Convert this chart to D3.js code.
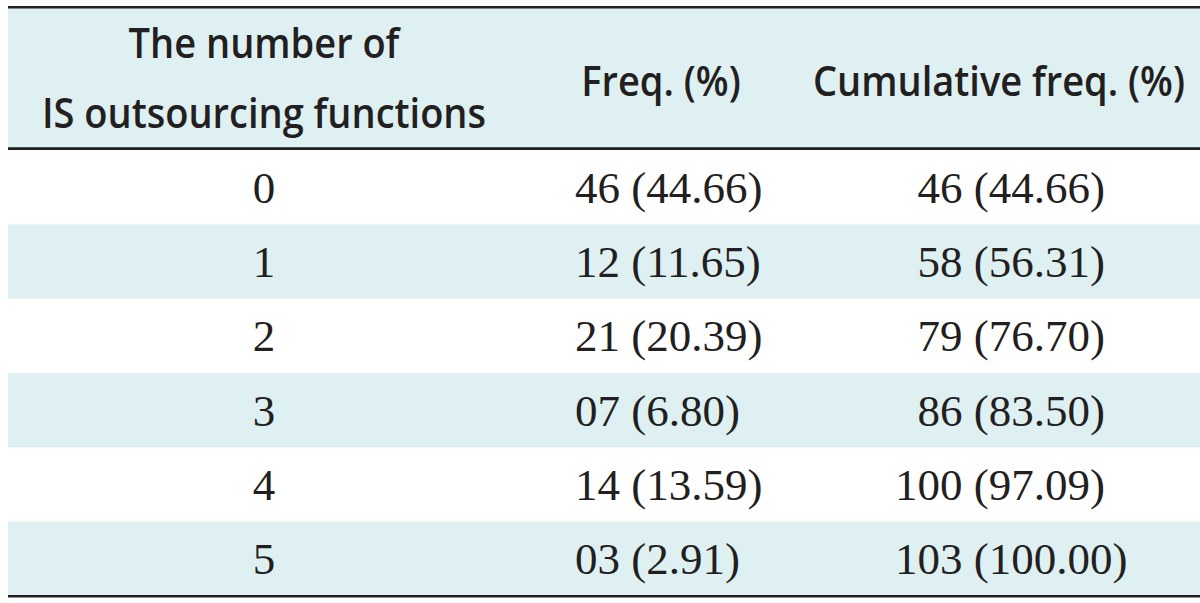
<!DOCTYPE html>
<html>
<head>
<meta charset="utf-8">
<script src="https://cdn.jsdelivr.net/npm/d3@7"></script>
<style>
  html, body { margin: 0; padding: 0; background: #fff; }
  svg { display: block; }
  .head { font-family: "Open Sans", "Noto Sans", sans-serif; font-size: 42px; font-weight: 600; fill: #231f20; }
  .cell { font-family: "Liberation Serif", "Times New Roman", serif; font-size: 45px; fill: #231f20; }
</style>
</head>
<body>
<div id="chart"></div>
<script>
// --- data --------------------------------------------------------------------
const functionCounts = ["0", "1", "2", "3", "4", "5"];
const freq = [46, 12, 21, 7, 14, 3];
const freqPct = ["44.66", "11.65", "20.39", "6.80", "13.59", "2.91"];
const cumFreq = [46, 58, 79, 86, 100, 103];
const cumPct = ["44.66", "56.31", "76.70", "83.50", "97.09", "100.00"];
const headers = [
  ["The number of", "IS outsourcing functions"],
  ["Freq. (%)"],
  ["Cumulative freq. (%)"]
];

(function () {
  const width = 1200, height = 603;
  const left = 8, right = 1200;
  const headTop = 8, headBottom = 148.5;
  const ink = "#231f20", band = "#dff0f3";

  const svg = d3.select("#chart").append("svg")
    .attr("width", width)
    .attr("height", height)
    .attr("viewBox", `0 0 ${width} ${height}`);

  // rows
  const y = d3.scaleBand()
    .domain(d3.range(functionCounts.length))
    .range([150, 596]);

  // header background
  svg.append("rect")
    .attr("x", left).attr("y", headTop)
    .attr("width", right - left).attr("height", headBottom - headTop)
    .attr("fill", band);

  // striped rows (every second row)
  svg.append("g").selectAll("rect")
    .data(d3.range(functionCounts.length).filter(i => i % 2 === 1))
    .join("rect")
    .attr("x", left)
    .attr("y", i => y(i))
    .attr("width", right - left)
    .attr("height", y.bandwidth())
    .attr("fill", band);

  // rules
  const rules = [
    { y: 7.3, w: 2.4 },
    { y: 148.6, w: 2.6 },
    { y: 596.3, w: 2.6 }
  ];
  svg.append("g").selectAll("line")
    .data(rules)
    .join("line")
    .attr("x1", left).attr("x2", right)
    .attr("y1", d => d.y).attr("y2", d => d.y)
    .attr("stroke", ink)
    .attr("stroke-width", d => d.w);

  // --- header ----------------------------------------------------------------
  const headX = [264, 661, 999];
  const headG = svg.append("g");
  const headTexts = [];
  headers.forEach((lines, c) => {
    const baselines = lines.length === 2 ? [58, 128] : [96];
    lines.forEach((txt, k) => {
      const t = headG.append("text")
        .attr("class", "head")
        .attr("x", headX[c])
        .attr("y", baselines[k])
        .attr("text-anchor", "middle")
        .text(txt);
      headTexts.push(t);
    });
  });

  // header face in the source is a condensed sans: squeeze to match
  const ref = headTexts[1].node().getComputedTextLength();
  const squeeze = Math.min(1, 444 / ref);
  headTexts.forEach(t => {
    const len = t.node().getComputedTextLength();
    t.attr("textLength", len * squeeze).attr("lengthAdjust", "spacingAndGlyphs");
  });

  // --- body ------------------------------------------------------------------
  const body = svg.append("g");
  const baseline = i => y(i) + y.bandwidth() / 2 + 15.5;

  // digit width, for padding the cumulative counts
  const probe = body.append("text").attr("class", "cell").text("0");
  const digitW = probe.node().getComputedTextLength();
  probe.remove();

  const fmt2 = d3.format("02d");

  body.selectAll("text.c0")
    .data(functionCounts)
    .join("text")
    .attr("class", "cell c0")
    .attr("x", 264)
    .attr("y", (d, i) => baseline(i))
    .attr("text-anchor", "middle")
    .text(d => d);

  body.selectAll("text.c1")
    .data(freq)
    .join("text")
    .attr("class", "cell c1")
    .attr("x", 575)
    .attr("y", (d, i) => baseline(i))
    .text((d, i) => `${fmt2(d)} (${freqPct[i]})`);

  body.selectAll("text.c2")
    .data(cumFreq)
    .join("text")
    .attr("class", "cell c2")
    .attr("x", d => 895 + (3 - String(d).length) * digitW)
    .attr("y", (d, i) => baseline(i))
    .text((d, i) => `${d} (${cumPct[i]})`);
})();
</script>
</body>
</html>
